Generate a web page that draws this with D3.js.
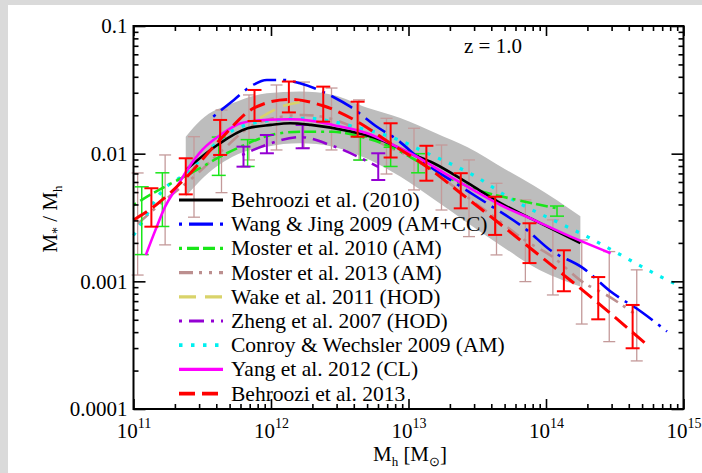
<!DOCTYPE html>
<html>
<head>
<meta charset="utf-8">
<script src="https://cdn.jsdelivr.net/npm/d3@7"></script>
<style>
  html, body { margin: 0; padding: 0; background: #dadada; }
  svg { display: block; }
  text { font-family: "Liberation Serif", "Times New Roman", serif; fill: #000; }
</style>
</head>
<body>
<svg id="chart" width="702" height="473"></svg>
<script>
// ---- Stellar-to-halo mass ratio at z = 1.0 (halo masses as log10 Msun) ----

// Behroozi et al. (2010): median relation and its uncertainty band
const behroozi10LogM = [11.38, 11.61, 11.83, 12.0, 12.14, 12.29, 12.58, 12.8, 13.01, 13.18, 13.43, 13.67, 13.91, 14.25];
const behroozi10Ratio = [0.00745, 0.0117, 0.0158, 0.0168, 0.0173, 0.0168, 0.0149, 0.0128, 0.0101, 0.00845, 0.0059, 0.0041, 0.00303, 0.00199];
const bandLogM = [11.38, 11.49, 11.72, 11.97, 12.21, 12.45, 12.7, 12.94, 13.2, 13.43, 13.7, 13.91, 14.25];
const bandUpper = [0.01358, 0.01837, 0.02483, 0.02972, 0.03062, 0.02884, 0.02291, 0.01905, 0.01445, 0.01122, 0.00759, 0.00562, 0.00324];
const bandLower = [0.0046, 0.00622, 0.00948, 0.01135, 0.01205, 0.01135, 0.00912, 0.00661, 0.00427, 0.00286, 0.00182, 0.0013, 0.00091];

// Wang & Jing 2009 (AM+CC)
const wangLogM = [11.58, 11.73, 11.85, 11.97, 12.09, 12.21, 12.45, 12.58, 12.77, 12.92, 13.09, 13.38, 13.59, 13.86, 14.03, 14.27, 14.47, 14.69, 14.88];
const wangRatio = [0.0195, 0.02636, 0.0335, 0.03776, 0.03776, 0.03556, 0.02793, 0.02323, 0.01626, 0.0128, 0.00893, 0.00552, 0.00396, 0.00253, 0.00176, 0.00127, 0.000832, 0.000581, 0.000405];

// Moster et al. 2010 (AM) with error bars
const moster10LogM = [11.0, 11.12, 11.46, 11.63, 11.78, 12.0, 12.21, 12.45, 12.65, 12.87, 13.09, 13.3, 13.54, 13.79, 14.08];
const moster10Ratio = [0.00396, 0.00475, 0.00745, 0.00948, 0.01135, 0.014, 0.01486, 0.01486, 0.01358, 0.01135, 0.00845, 0.00641, 0.00504, 0.00434, 0.00373];
const moster10ErrLogM = [11.06, 11.21, 11.62, 11.83, 12.65, 12.87, 13.07, 14.08];
const moster10ErrHi = [0.0055, 0.00708, 0.01349, 0.01288, 0.01349, 0.01122, 0.01, 0.00389];
const moster10ErrLo = [0.00162, 0.00269, 0.00676, 0.00794, 0.00891, 0.00794, 0.00708, 0.00324];

// Moster et al. 2013 (AM) with error bars
const moster13LogM = [11.03, 11.23, 11.44, 11.64, 11.84, 12.04, 12.24, 12.44, 12.64, 12.84, 13.04, 13.24, 13.44, 13.64, 13.85, 14.05, 14.26, 14.46, 14.66];
const moster13Ratio = [0.00282, 0.00434, 0.00661, 0.01047, 0.01603, 0.01919, 0.0201, 0.01871, 0.01535, 0.01148, 0.00912, 0.00652, 0.00447, 0.00309, 0.00209, 0.00155, 0.001, 0.000759, 0.000541];
const moster13Hi = [0.00706, 0.00977, 0.01358, 0.02198, 0.02884, 0.03451, 0.03639, 0.03266, 0.02636, 0.01892, 0.01581, 0.01169, 0.00893, 0.00586, 0.00434, 0.00303, 0.00211, 0.00171, 0.00123];
const moster13Lo = [0.00112, 0.00193, 0.00318, 0.00495, 0.00893, 0.01069, 0.01109, 0.01069, 0.00893, 0.00693, 0.0052, 0.00362, 0.00224, 0.00161, 0.000995, 0.000782, 0.000463, 0.000337, 0.000238];

// Wake et al. 2011 (HOD)
const wakeLogM = [11.92, 12.08, 12.25];
const wakeRatio = [0.01905, 0.02344, 0.0257];

// Zheng et al. 2007 (HOD) with error bars
const zhengLogM = [11.79, 11.97, 12.21, 12.45, 12.78];
const zhengRatio = [0.00977, 0.01175, 0.01349, 0.01148, 0.00787];
const zhengErrLogM = [11.8, 11.97, 12.23, 12.78];
const zhengErrHi = [0.01135, 0.014, 0.01679, 0.01007];
const zhengErrLo = [0.00791, 0.01007, 0.01102, 0.00622];

// Conroy & Wechsler 2009 (AM)
const conroyLogM = [11.0, 11.09, 11.16, 11.23, 11.39, 11.6, 11.73, 12.0, 12.28, 12.45, 12.65, 12.79, 12.96, 13.11, 13.35, 13.47, 13.72, 14.13, 14.3, 14.47, 14.64, 14.81, 14.98];
const conroyRatio = [0.00229, 0.00324, 0.00437, 0.00537, 0.00708, 0.01202, 0.01535, 0.0182, 0.01892, 0.01782, 0.0158, 0.01445, 0.01242, 0.01038, 0.00791, 0.00681, 0.0046, 0.00275, 0.00224, 0.00178, 0.00141, 0.00112, 0.000912];

// Yang et al. 2012 (CL)
const yangLogM = [11.09, 11.16, 11.23, 11.31, 11.39, 11.5, 11.65, 11.78, 11.95, 12.14, 12.29, 12.45, 12.7, 12.89, 13.06, 13.26, 13.47, 13.67, 13.91, 14.15, 14.47];
const yangRatio = [0.00161, 0.00253, 0.00385, 0.00536, 0.00745, 0.01069, 0.01445, 0.0173, 0.01837, 0.01858, 0.01811, 0.01679, 0.01445, 0.01169, 0.00948, 0.00703, 0.0052, 0.00396, 0.00303, 0.00231, 0.00166];

// Behroozi et al. 2013 with error bars
const behroozi13LogM = [11.0, 11.13, 11.38, 11.63, 11.88, 12.13, 12.38, 12.63, 12.87, 13.13, 13.38, 13.63, 13.88, 14.13, 14.38, 14.63, 14.75];
const behroozi13Ratio = [0.00302, 0.00372, 0.00646, 0.01288, 0.02291, 0.02661, 0.02371, 0.01778, 0.01202, 0.00794, 0.0049, 0.00302, 0.00184, 0.00112, 0.000676, 0.000398, 0.000309];
const behroozi13ErrLogM = [11.13, 11.38, 11.63, 11.88, 12.13, 12.38, 12.63, 12.87, 13.13, 13.38, 13.63, 13.88, 14.13, 14.38, 14.63];
const behroozi13ErrHi = [0.00536, 0.0092, 0.01837, 0.03155, 0.03673, 0.0335, 0.02553, 0.0173, 0.01153, 0.00703, 0.0046, 0.00285, 0.00175, 0.00108, 0.000653];
const behroozi13ErrLo = [0.00268, 0.0048, 0.00977, 0.01803, 0.02104, 0.01782, 0.01358, 0.00933, 0.00614, 0.00373, 0.00231, 0.00139, 0.000836, 0.000504, 0.000299];

// Axis ticks
const xTickExponents = [11, 12, 13, 14, 15];
const yTickValues = [1e-4, 1e-3, 1e-2, 1e-1];
const yTickLabels = ["0.0001", "0.001", "0.01", "0.1"];

// Legend entries
const legendNames = [
  "Behroozi et al. (2010)", "Wang & Jing 2009 (AM+CC)", "Moster et al. 2010 (AM)",
  "Moster et al. 2013 (AM)", "Wake et al. 2011 (HOD)", "Zheng et al. 2007 (HOD)",
  "Conroy & Wechsler 2009 (AM)", "Yang et al. 2012 (CL)", "Behroozi et al. 2013"
];

// ---- drawing ----
const svg = d3.select("#chart");
const W = 702, H = 473;

// page backdrop: light grey rim on top and left, white sheet
svg.append("rect").attr("x", 0).attr("y", 0).attr("width", W).attr("height", H).attr("fill", "#dadada");
svg.append("rect").attr("x", 8).attr("y", 5).attr("width", W - 8).attr("height", H - 5).attr("fill", "#ffffff");

const x = d3.scaleLog().domain([1e11, 1e15]).range([133.5, 683.5]);
const y = d3.scaleLog().domain([1e-4, 1e-1]).range([409, 26]);

const zip = (lm, v) => lm.map((m, i) => [Math.pow(10, m), v[i]]);
const line = d3.line().x(d => x(d[0])).y(d => y(d[1])).curve(d3.curveMonotoneX);

const plot = svg.append("g");

// uncertainty band of Behroozi et al. (2010)
const upper = zip(bandLogM, bandUpper);
const lower = zip(bandLogM, bandLower);
const area = d3.area().x(d => x(d[0])).y0(d => y(d[2])).y1(d => y(d[1])).curve(d3.curveMonotoneX);
plot.append("path")
  .datum(upper.map((d, i) => [d[0], d[1], lower[i][1]]))
  .attr("d", area)
  .attr("fill", "#bdbdbd");

const styles = {
  behroozi10: { color: "#000000", dash: null, width: 2.6 },
  wang: { color: "#0000ff", dash: "3,7,24,7", width: 2.6 },
  moster10: { color: "#19e619", dash: "3,5,12,4,12,5", width: 2.6 },
  moster13: { color: "#bc8f8f", dash: "14,6,3,7,3,7", width: 2.6 },
  wake: { color: "#d9d36a", dash: "17,9", width: 2.6 },
  zheng: { color: "#9400d3", dash: "3,7,15,7", width: 2.6 },
  conroy: { color: "#00f0f0", dash: "3.5,8.5", width: 3.2 },
  yang: { color: "#ff00ff", dash: null, width: 2.6 },
  behroozi13: { color: "#ff0000", dash: "16,7", width: 3 }
};

function drawLine(data, st) {
  const p = plot.append("path").datum(data).attr("d", line)
    .attr("fill", "none").attr("stroke", st.color).attr("stroke-width", st.width)
    .attr("stroke-linecap", "butt");
  if (st.dash) p.attr("stroke-dasharray", st.dash);
}

function drawErrors(lm, hi, lo, color, width, capHalf) {
  const g = plot.append("g").attr("stroke", color).attr("stroke-width", width).attr("fill", "none");
  lm.forEach((m, i) => {
    const cx = x(Math.pow(10, m));
    const yt = y(hi[i]), yb = y(lo[i]);
    g.append("line").attr("x1", cx).attr("x2", cx).attr("y1", yt).attr("y2", yb);
    g.append("line").attr("x1", cx - capHalf).attr("x2", cx + capHalf).attr("y1", yt).attr("y2", yt);
    g.append("line").attr("x1", cx - capHalf).attr("x2", cx + capHalf).attr("y1", yb).attr("y2", yb);
  });
}

drawErrors(moster13LogM, moster13Hi, moster13Lo, "#c49a9a", 1.3, 6);
drawLine(zip(moster13LogM, moster13Ratio), styles.moster13);
drawLine(zip(conroyLogM, conroyRatio), styles.conroy);
drawErrors(moster10ErrLogM, moster10ErrHi, moster10ErrLo, "#19e619", 1.5, 7);
drawLine(zip(moster10LogM, moster10Ratio), styles.moster10);
drawErrors(zhengErrLogM, zhengErrHi, zhengErrLo, "#9400d3", 2, 7);
drawLine(zip(zhengLogM, zhengRatio), styles.zheng);
drawLine(zip(behroozi10LogM, behroozi10Ratio), styles.behroozi10);
drawLine(zip(wangLogM, wangRatio), styles.wang);
drawLine(zip(yangLogM, yangRatio), styles.yang);
drawErrors(behroozi13ErrLogM, behroozi13ErrHi, behroozi13ErrLo, "#ff0000", 2, 7);
drawLine(zip(behroozi13LogM, behroozi13Ratio), styles.behroozi13);
drawLine(zip(wakeLogM, wakeRatio), styles.wake);

// ---- axes: inward ticks on all four sides ----
const xMajor = xTickExponents.map(e => Math.pow(10, e));
const xMinor = [];
for (let e = 11; e < 15; e++) for (let k = 2; k <= 9; k++) xMinor.push(k * Math.pow(10, e));
const yMinor = [];
for (let e = -4; e < -1; e++) for (let k = 2; k <= 9; k++) yMinor.push(k * Math.pow(10, e));

function axisGroup(axis, tx, ty) {
  const g = svg.append("g").attr("transform", `translate(${tx},${ty})`).call(axis);
  g.select(".domain").remove();
  g.selectAll(".tick line").attr("stroke", "#000").attr("stroke-width", 1.6);
  return g;
}

const fmtNone = () => "";
axisGroup(d3.axisBottom(x).tickValues(xMinor).tickSize(-5).tickFormat(fmtNone), 0, 409);
axisGroup(d3.axisTop(x).tickValues(xMinor).tickSize(-5).tickFormat(fmtNone), 0, 26);
axisGroup(d3.axisTop(x).tickValues(xMajor).tickSize(-10).tickFormat(fmtNone), 0, 26);
const xAx = axisGroup(d3.axisBottom(x).tickValues(xMajor).tickSize(-10).tickPadding(10)
  .tickFormat(fmtNone), 0, 409);
xAx.selectAll(".tick").each(function (d) {
  const t = d3.select(this).select("text")
    .attr("font-size", 21).attr("text-anchor", "middle").attr("dy", 0).attr("y", 29)
    .style("font-family", "Liberation Serif, serif");
  t.append("tspan").text("10");
  t.append("tspan").attr("font-size", 14).attr("dy", -10).text(String(Math.round(Math.log10(d))));
});

axisGroup(d3.axisLeft(y).tickValues(yMinor).tickSize(-5).tickFormat(fmtNone), 133.5, 0);
axisGroup(d3.axisRight(y).tickValues(yMinor).tickSize(-5).tickFormat(fmtNone), 683.5, 0);
axisGroup(d3.axisRight(y).tickValues(yTickValues).tickSize(-12).tickFormat(fmtNone), 683.5, 0);
const yAx = axisGroup(d3.axisLeft(y).tickValues(yTickValues).tickSize(-12).tickPadding(6)
  .tickFormat((d, i) => yTickLabels[i]), 133.5, 0);
yAx.selectAll(".tick text").attr("font-size", 21).attr("fill", "#000")
  .style("font-family", "Liberation Serif, serif");

// frame
svg.append("rect").attr("x", 133.5).attr("y", 26).attr("width", 550).attr("height", 383)
  .attr("fill", "none").attr("stroke", "#000").attr("stroke-width", 2);

// axis titles
const xt = svg.append("text").attr("x", 410).attr("y", 461).attr("text-anchor", "middle").attr("font-size", 21);
xt.append("tspan").text("M");
xt.append("tspan").attr("font-size", 13).attr("dy", 5).text("h");
xt.append("tspan").attr("dy", -5).text(" [M");
xt.append("tspan").attr("font-size", 13).attr("dy", 5).text("\u2299");
xt.append("tspan").attr("dy", -5).text("]");

const yt = svg.append("text").attr("transform", "translate(57,219) rotate(-90)")
  .attr("text-anchor", "middle").attr("font-size", 21);
yt.append("tspan").text("M");
yt.append("tspan").attr("font-size", 14).attr("dy", 5).text("*");
yt.append("tspan").attr("dy", -5).text(" / M");
yt.append("tspan").attr("font-size", 13).attr("dy", 5).text("h");

// redshift label
svg.append("text").attr("x", 493).attr("y", 53).attr("text-anchor", "middle").attr("font-size", 21).text("z = 1.0");

// ---- legend ----
const legendStyles = [styles.behroozi10, styles.wang, styles.moster10, styles.moster13, styles.wake,
  styles.zheng, styles.conroy, styles.yang, styles.behroozi13];
const leg = svg.append("g");
legendNames.forEach((name, i) => {
  const ly = 200 + i * 24.2;
  const st = legendStyles[i];
  const seg = leg.append("line").attr("x1", 179).attr("x2", 223).attr("y1", ly).attr("y2", ly)
    .attr("stroke", st.color).attr("stroke-width", st.width + 0.6)
    .attr("stroke-linecap", "butt");
  if (st.dash) seg.attr("stroke-dasharray", st.dash);
  leg.append("text").attr("x", 231).attr("y", ly + 7).attr("font-size", 21.5).text(name);
});
</script>
</body>
</html>
